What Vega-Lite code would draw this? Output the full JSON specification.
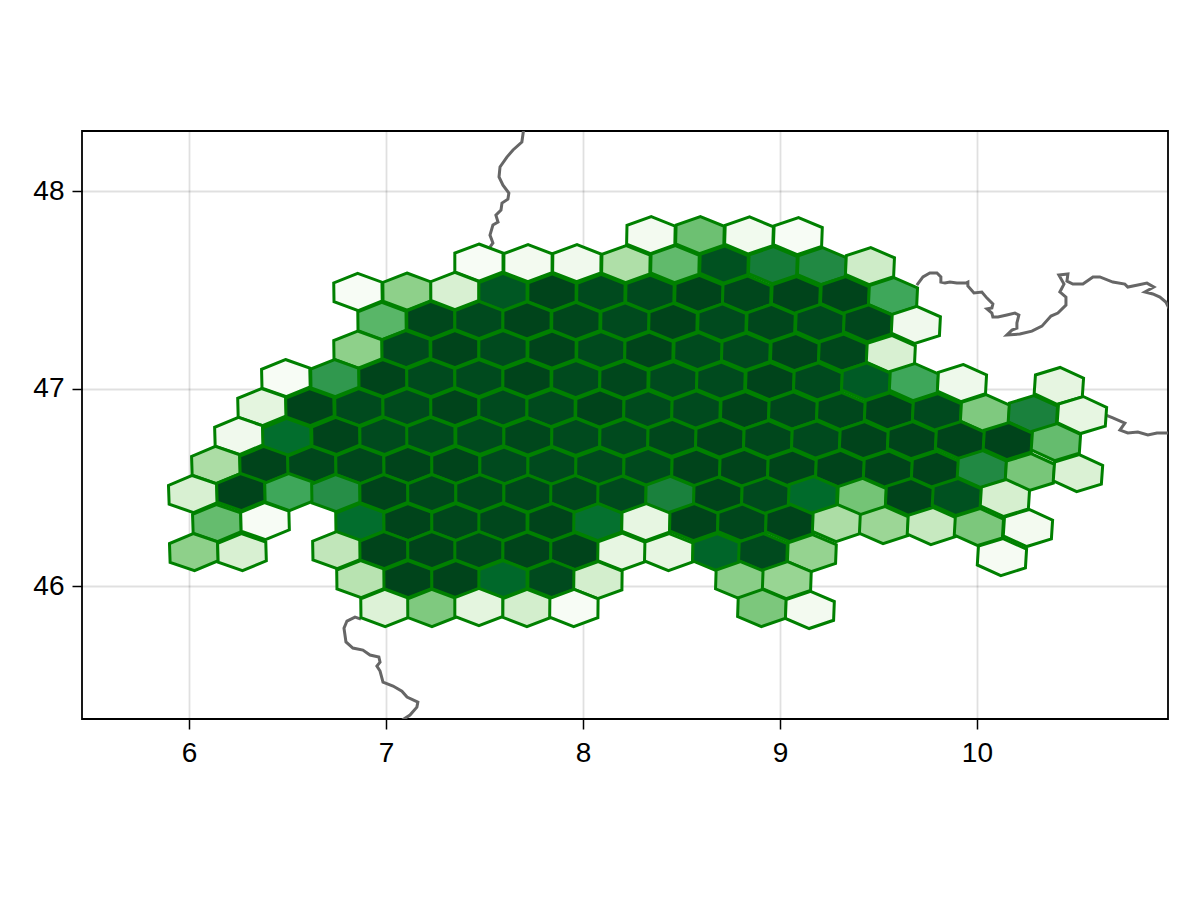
{"$schema":"https://vega.github.io/schema/vega-lite/v6.json","width":1086,"height":588,"autosize":{"type":"none"},"padding":{"left":82,"top":131,"right":32,"bottom":181},"background":"white","config":{"view":{"stroke":"black","strokeWidth":1.8},"font":"Liberation Sans"},"encoding":{"x":{"field":"lon","type":"quantitative","scale":{"domain":[5.457,10.97],"nice":false,"zero":false},"axis":{"values":[6,7,8,9,10],"title":null,"domain":false,"grid":true,"gridColor":"#000000","gridOpacity":0.12,"gridWidth":1.8,"tickColor":"#000000","tickWidth":1.5,"tickSize":10,"labelFontSize":28,"labelColor":"#000000","labelPadding":10,"labelFont":"Liberation Sans"}},"y":{"field":"lat","type":"quantitative","scale":{"domain":[45.327,48.304],"nice":false,"zero":false},"axis":{"values":[46,47,48],"title":null,"domain":false,"grid":true,"gridColor":"#000000","gridOpacity":0.12,"gridWidth":1.8,"tickColor":"#000000","tickWidth":1.5,"tickSize":10,"labelFontSize":28,"labelColor":"#000000","labelPadding":8,"labelFont":"Liberation Sans"}}},"layer":[{"data":{"values":[
{"seg":"n","lon":7.7,"lat":48.319},{"seg":"n","lon":7.695,"lat":48.284},{"seg":"n","lon":7.69,"lat":48.248},{"seg":"n","lon":7.645,"lat":48.208},{"seg":"n","lon":7.614,"lat":48.172},{"seg":"n","lon":7.579,"lat":48.122},{"seg":"n","lon":7.574,"lat":48.071},{"seg":"n","lon":7.594,"lat":48.03},{"seg":"n","lon":7.624,"lat":47.99},{"seg":"n","lon":7.619,"lat":47.959},{"seg":"n","lon":7.589,"lat":47.939},{"seg":"n","lon":7.584,"lat":47.904},{"seg":"n","lon":7.558,"lat":47.878},{"seg":"n","lon":7.569,"lat":47.843},{"seg":"n","lon":7.543,"lat":47.828},{"seg":"n","lon":7.528,"lat":47.777},{"seg":"n","lon":7.543,"lat":47.737},{"seg":"n","lon":7.528,"lat":47.716},
{"seg":"e","lon":9.695,"lat":47.524},{"seg":"e","lon":9.726,"lat":47.565},{"seg":"e","lon":9.761,"lat":47.585},{"seg":"e","lon":9.797,"lat":47.585},{"seg":"e","lon":9.817,"lat":47.565},{"seg":"e","lon":9.817,"lat":47.539},{"seg":"e","lon":9.838,"lat":47.534},{"seg":"e","lon":9.863,"lat":47.539},{"seg":"e","lon":9.898,"lat":47.534},{"seg":"e","lon":9.944,"lat":47.534},{"seg":"e","lon":9.954,"lat":47.539},{"seg":"e","lon":9.954,"lat":47.519},{"seg":"e","lon":9.985,"lat":47.484},{"seg":"e","lon":10.025,"lat":47.489},{"seg":"e","lon":10.051,"lat":47.458},{"seg":"e","lon":10.081,"lat":47.428},{"seg":"e","lon":10.076,"lat":47.408},{"seg":"e","lon":10.051,"lat":47.403},{"seg":"e","lon":10.076,"lat":47.382},{"seg":"e","lon":10.081,"lat":47.362},{"seg":"e","lon":10.107,"lat":47.362},{"seg":"e","lon":10.152,"lat":47.372},{"seg":"e","lon":10.193,"lat":47.382},{"seg":"e","lon":10.213,"lat":47.372},{"seg":"e","lon":10.203,"lat":47.332},{"seg":"e","lon":10.203,"lat":47.306},{"seg":"e","lon":10.178,"lat":47.296},{"seg":"e","lon":10.152,"lat":47.271},{"seg":"e","lon":10.218,"lat":47.276},{"seg":"e","lon":10.279,"lat":47.291},{"seg":"e","lon":10.33,"lat":47.316},{"seg":"e","lon":10.376,"lat":47.367},{"seg":"e","lon":10.411,"lat":47.382},{"seg":"e","lon":10.452,"lat":47.423},{"seg":"e","lon":10.452,"lat":47.463},{"seg":"e","lon":10.421,"lat":47.489},{"seg":"e","lon":10.442,"lat":47.529},{"seg":"e","lon":10.416,"lat":47.575},{"seg":"e","lon":10.462,"lat":47.58},{"seg":"e","lon":10.457,"lat":47.544},{"seg":"e","lon":10.487,"lat":47.529},{"seg":"e","lon":10.538,"lat":47.529},{"seg":"e","lon":10.589,"lat":47.565},{"seg":"e","lon":10.624,"lat":47.565},{"seg":"e","lon":10.69,"lat":47.539},{"seg":"e","lon":10.751,"lat":47.529},{"seg":"e","lon":10.766,"lat":47.514},{"seg":"e","lon":10.817,"lat":47.524},{"seg":"e","lon":10.863,"lat":47.534},{"seg":"e","lon":10.898,"lat":47.514},{"seg":"e","lon":10.853,"lat":47.489},{"seg":"e","lon":10.893,"lat":47.479},{"seg":"e","lon":10.929,"lat":47.463},{"seg":"e","lon":10.959,"lat":47.438},{"seg":"e","lon":10.98,"lat":47.397},
{"seg":"l","lon":10.655,"lat":46.866},{"seg":"l","lon":10.69,"lat":46.851},{"seg":"l","lon":10.751,"lat":46.825},{"seg":"l","lon":10.726,"lat":46.79},{"seg":"l","lon":10.766,"lat":46.775},{"seg":"l","lon":10.817,"lat":46.78},{"seg":"l","lon":10.868,"lat":46.765},{"seg":"l","lon":10.914,"lat":46.775},{"seg":"l","lon":10.99,"lat":46.775},
{"seg":"s","lon":6.873,"lat":45.833},{"seg":"s","lon":6.843,"lat":45.843},{"seg":"s","lon":6.802,"lat":45.823},{"seg":"s","lon":6.787,"lat":45.787},{"seg":"s","lon":6.797,"lat":45.717},{"seg":"s","lon":6.832,"lat":45.686},{"seg":"s","lon":6.883,"lat":45.676},{"seg":"s","lon":6.919,"lat":45.651},{"seg":"s","lon":6.964,"lat":45.641},{"seg":"s","lon":6.97,"lat":45.615},{"seg":"s","lon":6.954,"lat":45.595},{"seg":"s","lon":6.97,"lat":45.57},{"seg":"s","lon":6.985,"lat":45.514},{"seg":"s","lon":7.036,"lat":45.494},{"seg":"s","lon":7.081,"lat":45.468},{"seg":"s","lon":7.107,"lat":45.438},{"seg":"s","lon":7.162,"lat":45.413},{"seg":"s","lon":7.157,"lat":45.387},{"seg":"s","lon":7.122,"lat":45.347},{"seg":"s","lon":7.091,"lat":45.327},{"seg":"s","lon":7.061,"lat":45.306}
]},"mark":{"type":"line","stroke":"#666666","strokeWidth":3,"clip":true,"interpolate":"linear"},"encoding":{"detail":{"field":"seg"},"order":{"value":null}}},
{"data":{"values":[
{"lon":8.345,"lat":47.777,"v":0.03},{"lon":8.594,"lat":47.777,"v":0.52},{"lon":8.843,"lat":47.775,"v":0.04},{"lon":9.091,"lat":47.772,"v":0.0},
{"lon":7.472,"lat":47.638,"v":0.0},{"lon":7.721,"lat":47.635,"v":0.03},{"lon":7.969,"lat":47.635,"v":0.05},{"lon":8.218,"lat":47.63,"v":0.33},{"lon":8.467,"lat":47.63,"v":0.55},{"lon":8.716,"lat":47.628,"v":0.96},{"lon":8.964,"lat":47.625,"v":0.81},{"lon":9.213,"lat":47.62,"v":0.76},{"lon":9.457,"lat":47.62,"v":0.22},
{"lon":6.858,"lat":47.489,"v":0.0},{"lon":7.107,"lat":47.491,"v":0.43},{"lon":7.35,"lat":47.494,"v":0.18},{"lon":7.594,"lat":47.489,"v":0.94},{"lon":7.843,"lat":47.487,"v":1.0},{"lon":8.091,"lat":47.484,"v":0.98},{"lon":8.34,"lat":47.481,"v":0.98},{"lon":8.589,"lat":47.479,"v":1.0},{"lon":8.832,"lat":47.476,"v":0.99},{"lon":9.081,"lat":47.473,"v":1.0},{"lon":9.33,"lat":47.473,"v":1.0},{"lon":9.574,"lat":47.468,"v":0.64},
{"lon":6.98,"lat":47.342,"v":0.57},{"lon":7.228,"lat":47.347,"v":0.99},{"lon":7.472,"lat":47.347,"v":0.98},{"lon":7.716,"lat":47.345,"v":1.0},{"lon":7.964,"lat":47.342,"v":0.99},{"lon":8.213,"lat":47.34,"v":0.98},{"lon":8.457,"lat":47.337,"v":1.0},{"lon":8.706,"lat":47.335,"v":0.98},{"lon":8.954,"lat":47.332,"v":0.99},{"lon":9.203,"lat":47.332,"v":0.98},{"lon":9.447,"lat":47.33,"v":0.99},{"lon":9.69,"lat":47.322,"v":0.05},
{"lon":6.858,"lat":47.197,"v":0.43},{"lon":7.102,"lat":47.2,"v":0.98},{"lon":7.35,"lat":47.2,"v":1.0},{"lon":7.594,"lat":47.2,"v":0.98},{"lon":7.843,"lat":47.197,"v":1.0},{"lon":8.091,"lat":47.195,"v":0.98},{"lon":8.335,"lat":47.192,"v":1.0},{"lon":8.584,"lat":47.19,"v":0.98},{"lon":8.827,"lat":47.187,"v":0.98},{"lon":9.076,"lat":47.185,"v":1.0},{"lon":9.32,"lat":47.182,"v":0.99},{"lon":9.563,"lat":47.175,"v":0.18},
{"lon":6.492,"lat":47.053,"v":0.0},{"lon":6.741,"lat":47.053,"v":0.7},{"lon":6.985,"lat":47.053,"v":1.0},{"lon":7.228,"lat":47.053,"v":0.98},{"lon":7.472,"lat":47.053,"v":0.98},{"lon":7.716,"lat":47.05,"v":1.0},{"lon":7.964,"lat":47.048,"v":0.98},{"lon":8.208,"lat":47.045,"v":0.99},{"lon":8.457,"lat":47.043,"v":0.98},{"lon":8.7,"lat":47.04,"v":0.98},{"lon":8.949,"lat":47.038,"v":1.0},{"lon":9.193,"lat":47.036,"v":0.98},{"lon":9.437,"lat":47.036,"v":0.93},{"lon":9.68,"lat":47.033,"v":0.64},{"lon":9.924,"lat":47.028,"v":0.06},{"lon":10.416,"lat":47.013,"v":0.12},
{"lon":6.371,"lat":46.906,"v":0.13},{"lon":6.614,"lat":46.906,"v":1.0},{"lon":6.863,"lat":46.906,"v":0.98},{"lon":7.107,"lat":46.906,"v":0.98},{"lon":7.35,"lat":46.906,"v":1.0},{"lon":7.594,"lat":46.904,"v":0.98},{"lon":7.838,"lat":46.901,"v":0.98},{"lon":8.086,"lat":46.899,"v":1.0},{"lon":8.33,"lat":46.896,"v":0.98},{"lon":8.574,"lat":46.894,"v":0.98},{"lon":8.822,"lat":46.891,"v":1.0},{"lon":9.066,"lat":46.889,"v":0.99},{"lon":9.31,"lat":46.886,"v":0.99},{"lon":9.553,"lat":46.884,"v":1.0},{"lon":9.797,"lat":46.881,"v":0.98},{"lon":10.041,"lat":46.876,"v":0.47},{"lon":10.284,"lat":46.871,"v":0.79},{"lon":10.533,"lat":46.866,"v":0.11},
{"lon":6.254,"lat":46.76,"v":0.05},{"lon":6.497,"lat":46.755,"v":0.87},{"lon":6.746,"lat":46.76,"v":1.0},{"lon":6.99,"lat":46.76,"v":0.98},{"lon":7.228,"lat":46.76,"v":0.98},{"lon":7.477,"lat":46.76,"v":0.98},{"lon":7.721,"lat":46.757,"v":0.99},{"lon":7.964,"lat":46.755,"v":0.98},{"lon":8.208,"lat":46.752,"v":0.98},{"lon":8.452,"lat":46.75,"v":0.99},{"lon":8.695,"lat":46.747,"v":1.0},{"lon":8.939,"lat":46.744,"v":0.99},{"lon":9.183,"lat":46.742,"v":0.98},{"lon":9.426,"lat":46.739,"v":1.0},{"lon":9.67,"lat":46.739,"v":1.0},{"lon":9.914,"lat":46.739,"v":1.0},{"lon":10.157,"lat":46.734,"v":1.0},{"lon":10.401,"lat":46.729,"v":0.54},
{"lon":6.137,"lat":46.613,"v":0.34},{"lon":6.381,"lat":46.613,"v":1.0},{"lon":6.624,"lat":46.613,"v":0.99},{"lon":6.868,"lat":46.613,"v":0.99},{"lon":7.112,"lat":46.613,"v":1.0},{"lon":7.355,"lat":46.613,"v":1.0},{"lon":7.599,"lat":46.61,"v":0.98},{"lon":7.843,"lat":46.608,"v":0.98},{"lon":8.086,"lat":46.605,"v":0.98},{"lon":8.33,"lat":46.603,"v":0.98},{"lon":8.574,"lat":46.6,"v":1.0},{"lon":8.817,"lat":46.598,"v":1.0},{"lon":9.061,"lat":46.595,"v":1.0},{"lon":9.305,"lat":46.593,"v":1.0},{"lon":9.548,"lat":46.59,"v":1.0},{"lon":9.792,"lat":46.588,"v":1.0},{"lon":10.025,"lat":46.592,"v":0.76},{"lon":10.269,"lat":46.577,"v":0.49},{"lon":10.513,"lat":46.572,"v":0.17},
{"lon":6.02,"lat":46.466,"v":0.18},{"lon":6.264,"lat":46.476,"v":1.0},{"lon":6.508,"lat":46.476,"v":0.64},{"lon":6.746,"lat":46.471,"v":0.74},{"lon":6.99,"lat":46.471,"v":1.0},{"lon":7.233,"lat":46.471,"v":0.99},{"lon":7.477,"lat":46.471,"v":0.99},{"lon":7.721,"lat":46.468,"v":0.99},{"lon":7.959,"lat":46.466,"v":0.99},{"lon":8.198,"lat":46.463,"v":0.98},{"lon":8.442,"lat":46.461,"v":0.79},{"lon":8.685,"lat":46.458,"v":1.0},{"lon":8.929,"lat":46.456,"v":0.98},{"lon":9.167,"lat":46.461,"v":0.88},{"lon":9.416,"lat":46.451,"v":0.5},{"lon":9.66,"lat":46.451,"v":1.0},{"lon":9.898,"lat":46.451,"v":0.96},{"lon":10.142,"lat":46.446,"v":0.19},
{"lon":6.142,"lat":46.319,"v":0.54},{"lon":6.386,"lat":46.329,"v":0.0},{"lon":6.868,"lat":46.324,"v":0.87},{"lon":7.112,"lat":46.324,"v":1.0},{"lon":7.355,"lat":46.324,"v":0.99},{"lon":7.594,"lat":46.324,"v":0.99},{"lon":7.843,"lat":46.324,"v":1.0},{"lon":8.076,"lat":46.324,"v":0.86},{"lon":8.32,"lat":46.324,"v":0.11},{"lon":8.563,"lat":46.324,"v":1.0},{"lon":8.807,"lat":46.321,"v":0.99},{"lon":9.051,"lat":46.319,"v":1.0},{"lon":9.289,"lat":46.319,"v":0.34},{"lon":9.528,"lat":46.309,"v":0.39},{"lon":9.771,"lat":46.304,"v":0.25},{"lon":10.01,"lat":46.299,"v":0.48},{"lon":10.259,"lat":46.294,"v":0.03},
{"lon":6.025,"lat":46.172,"v":0.43},{"lon":6.269,"lat":46.172,"v":0.18},{"lon":6.751,"lat":46.182,"v":0.27},{"lon":6.99,"lat":46.182,"v":1.0},{"lon":7.233,"lat":46.182,"v":1.0},{"lon":7.472,"lat":46.182,"v":0.99},{"lon":7.716,"lat":46.179,"v":1.0},{"lon":7.959,"lat":46.177,"v":1.0},{"lon":8.198,"lat":46.174,"v":0.11},{"lon":8.436,"lat":46.172,"v":0.11},{"lon":8.68,"lat":46.172,"v":0.9},{"lon":8.914,"lat":46.172,"v":0.98},{"lon":9.162,"lat":46.167,"v":0.41},{"lon":10.127,"lat":46.147,"v":0.01},
{"lon":6.873,"lat":46.035,"v":0.3},{"lon":7.112,"lat":46.035,"v":1.0},{"lon":7.355,"lat":46.035,"v":1.0},{"lon":7.594,"lat":46.035,"v":0.89},{"lon":7.843,"lat":46.035,"v":0.98},{"lon":8.076,"lat":46.03,"v":0.2},{"lon":8.797,"lat":46.03,"v":0.44},{"lon":9.035,"lat":46.03,"v":0.4},
{"lon":6.995,"lat":45.889,"v":0.16},{"lon":7.233,"lat":45.889,"v":0.47},{"lon":7.472,"lat":45.894,"v":0.13},{"lon":7.716,"lat":45.889,"v":0.2},{"lon":7.954,"lat":45.889,"v":0.0},{"lon":8.909,"lat":45.889,"v":0.48},{"lon":9.152,"lat":45.879,"v":0.03}
]},"mark":{"type":"point","shape":"M0,-0.77L1,-0.39L1,0.39L0,0.77L-1,0.39L-1,-0.39Z","size":2325,"filled":true,"opacity":1,"stroke":"#008000","strokeWidth":3,"strokeJoin":"miter"},"encoding":{"fill":{"field":"v","type":"quantitative","scale":{"domain":[0,0.125,0.25,0.375,0.5,0.625,0.75,0.875,1],"range":["#f7fcf5","#e5f5e0","#c7e9c0","#a1d99b","#74c476","#41ab5d","#238b45","#006d2c","#00441b"]},"legend":null},"angle":{"field":"lon","type":"quantitative","scale":{"domain":[6,10.5],"range":[-2,4],"zero":false},"legend":null}}}
]}
